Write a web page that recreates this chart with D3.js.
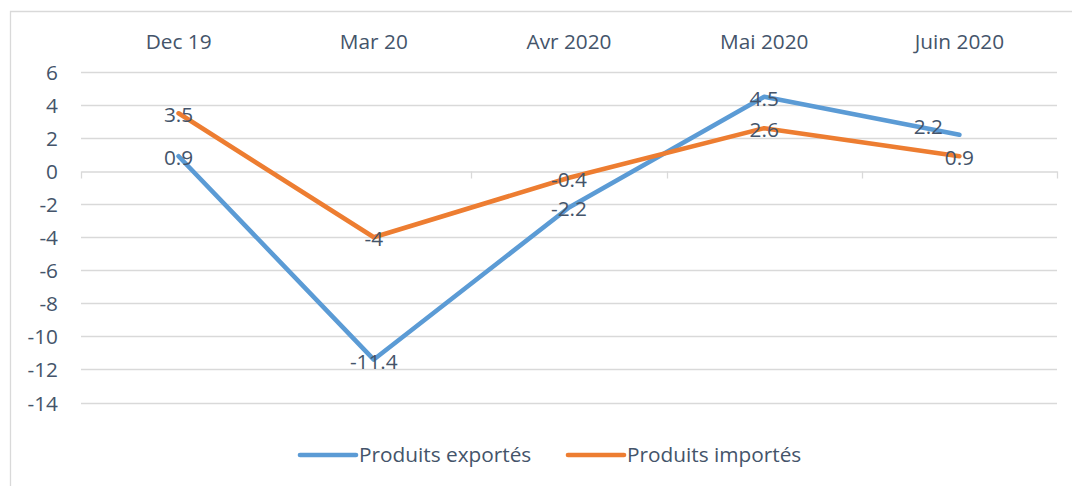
<!DOCTYPE html>
<html>
<head>
<meta charset="utf-8">
<script src="https://cdn.jsdelivr.net/npm/d3@7"></script>
<style>
  html, body { margin: 0; padding: 0; background: #ffffff; }
  svg { display: block; }
  text { font-family: "Open Sans", "Noto Sans", sans-serif; fill: #44546A; }
</style>
</head>
<body>
<svg id="chart" width="1072" height="486"></svg>
<script>
const categories = ["Dec 19", "Mar 20", "Avr 2020", "Mai 2020", "Juin 2020"];
const exportes = [0.9, -11.4, -2.2, 4.5, 2.2];
const importes = [3.5, -4, -0.4, 2.6, 0.9];
const yTicks = [6, 4, 2, 0, -2, -4, -6, -8, -10, -12, -14];
const seriesNames = ["Produits exportés", "Produits importés"];
const seriesColors = ["#5B9BD5", "#ED7D31"];

const svg = d3.select("#chart");
const W = 1072, H = 486;
const fontSize = 20.8;

// chart border
svg.append("path")
  .attr("d", `M10.5,${H + 5} V11.5 H${W + 5}`)
  .attr("fill", "none")
  .attr("stroke", "#D9D9D9")
  .attr("stroke-width", 1.3);

const x = d3.scaleBand().domain(categories).range([81, 1057]);
const y = d3.scaleLinear().domain([-14, 6]).range([402.5, 72]);

// gridlines
svg.append("g").selectAll("line")
  .data(yTicks.filter(d => d !== 0))
  .join("line")
  .attr("x1", 81).attr("x2", 1057)
  .attr("y1", d => Math.round(y(d)) + 0.5).attr("y2", d => Math.round(y(d)) + 0.5)
  .attr("stroke", "#D9D9D9").attr("stroke-width", 1.3);

// zero axis with tick marks at category boundaries (downwards)
const zeroY = Math.round(y(0)) + 0.5;
const xAxis = d3.axisBottom(x).tickSize(0).tickFormat("");
const gx = svg.append("g").attr("transform", `translate(0,${zeroY})`).call(xAxis);
gx.select(".domain").attr("stroke", "#D9D9D9").attr("stroke-width", 1.3);
const boundaries = categories.map(c => x(c)).concat([x.range()[1]]);
gx.selectAll(".bound").data(boundaries).join("line")
  .attr("class", "bound")
  .attr("x1", d => Math.round(d) + 0.5).attr("x2", d => Math.round(d) + 0.5)
  .attr("y1", 0).attr("y2", 7)
  .attr("stroke", "#D9D9D9").attr("stroke-width", 1.3);

// y tick labels (hyphen-minus as in the reference)
const yAxis = d3.axisLeft(y).tickValues(yTicks).tickSize(0).tickPadding(0)
  .tickFormat(d => String(d));
const gy = svg.append("g").attr("transform", "translate(58,0)").call(yAxis);
gy.select(".domain").remove();
gy.selectAll("text")
  .attr("font-size", fontSize)
  .attr("font-family", '"Open Sans", sans-serif')
  .attr("fill", "#44546A")
  .attr("x", 0).attr("dy", "0.36em");

// category labels at top
const xTop = d3.axisTop(x).tickSize(0).tickPadding(0);
const gt = svg.append("g").attr("transform", "translate(0,49)").call(xTop);
gt.select(".domain").remove();
gt.selectAll("text")
  .attr("font-size", fontSize)
  .attr("font-family", '"Open Sans", sans-serif')
  .attr("fill", "#44546A")
  .attr("y", 0).attr("dy", 0);

// lines
const series = [exportes, importes];
const line = d3.line()
  .x((d, i) => x(categories[i]) + x.bandwidth() / 2)
  .y(d => y(d));

series.forEach((vals, si) => {
  svg.append("path")
    .datum(vals)
    .attr("d", line)
    .attr("fill", "none")
    .attr("stroke", seriesColors[si])
    .attr("stroke-width", 4.6)
    .attr("stroke-linecap", "round")
    .attr("stroke-linejoin", "round");
});

// data labels
series.forEach((vals, si) => {
  svg.append("g").selectAll("text")
    .data(vals)
    .join("text")
    .attr("x", (d, i) => x(categories[i]) + x.bandwidth() / 2 + ((si === 0 && i === 4) ? -31 : 0))
    .attr("y", (d, i) => y(d) + 1.5 + ((si === 0 && i === 4) ? -10 : 0))
    .attr("dy", "0.36em")
    .attr("text-anchor", "middle")
    .attr("font-size", fontSize)
    .text(d => String(d));
});

// legend
const legendItems = [
  { x0: 300, x1: 356, tx: 359 },
  { x0: 568, x1: 624, tx: 627 }
];
const legendY = 455;
legendItems.forEach((it, i) => {
  svg.append("line")
    .attr("x1", it.x0).attr("x2", it.x1)
    .attr("y1", legendY).attr("y2", legendY)
    .attr("stroke", seriesColors[i])
    .attr("stroke-width", 4.6)
    .attr("stroke-linecap", "round");
  svg.append("text")
    .attr("x", it.tx).attr("y", legendY)
    .attr("dy", "0.36em")
    .attr("font-size", fontSize)
    .text(seriesNames[i]);
});
</script>
</body>
</html>
